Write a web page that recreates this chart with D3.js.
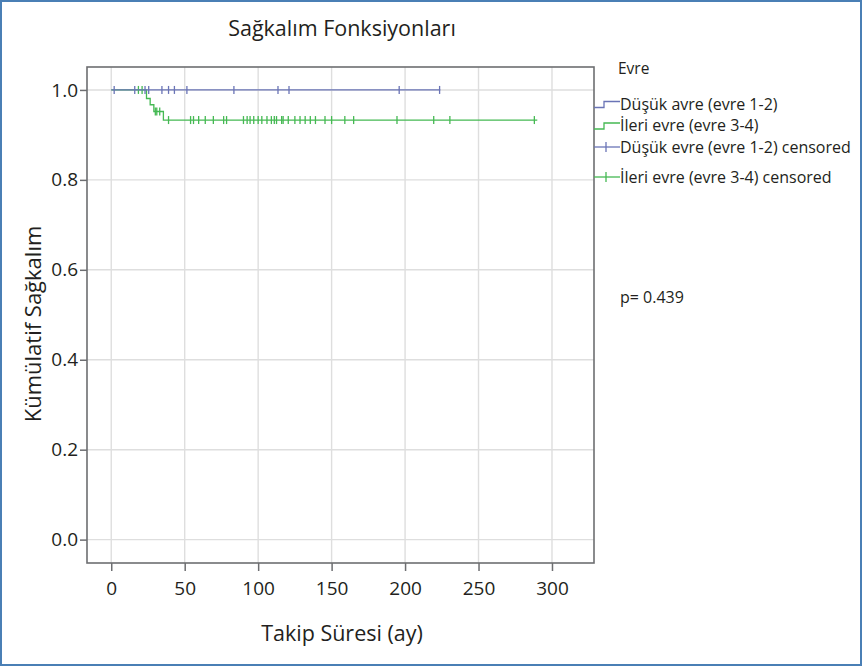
<!DOCTYPE html>
<html>
<head>
<meta charset="utf-8">
<script src="https://cdn.jsdelivr.net/npm/d3@7"></script>
<style>
  html, body { margin: 0; padding: 0; background: #fff; }
  svg { display: block; }
  text { font-family: "Open Sans", "Noto Sans", sans-serif; fill: #231f20; }
</style>
</head>
<body>
<svg id="chart" width="862" height="666"></svg>
<script>
// ---------- data ----------
const title = "Sağkalım Fonksiyonları";
const xLabel = "Takip Süresi (ay)";
const yLabel = "Kümülatif Sağkalım";
const xTicks = [0, 50, 100, 150, 200, 250, 300];
const yTicks = [0.0, 0.2, 0.4, 0.6, 0.8, 1.0];
const legendTitle = "Evre";
const legendLabels = ["Düşük avre (evre 1-2)", "İleri evre (evre 3-4)", "Düşük evre (evre 1-2) censored", "İleri evre (evre 3-4) censored"];
const pText = "p= 0.439";

// Düşük evre (evre 1-2): step function
const lowTimes = [0, 224];
const lowSurv = [1.0, 1.0];
const lowCensor = [2, 16, 23, 25.5, 34.5, 39, 43, 51.5, 83.5, 113.5, 121, 196, 223.5];

// İleri evre (evre 3-4): step function
const highTimes = [0, 24, 26.5, 29, 35.5, 290];
const highSurv = [1.0, 0.981, 0.967, 0.952, 0.933, 0.933];
const highCensor = [18.5, 21, 30, 31, 33, 39, 54, 56, 59.5, 64, 69.5, 76.5, 78.5, 90, 92.5, 94.5, 97, 100, 102.5, 106,
  109, 111, 112.5, 116, 117, 120.5, 125, 128.5, 132, 135.5, 139, 145.5, 150, 159, 165, 194.5, 219.5, 230.5, 288];

// ---------- layout ----------
const svg = d3.select("#chart");
const box = { left: 87, right: 594, top: 67, bottom: 563 };
const x = d3.scaleLinear().domain([-16.5, 328.6]).range([box.left, box.right]);
const y = d3.scaleLinear().domain([-0.052, 1.051]).range([box.bottom, box.top]);

const blue = "#6a74b6";
const green = "#45b953";
const axisColor = "#6d6e71";
const gridColor = "#dedede";

// outer frame
svg.append("rect").attr("x", 1).attr("y", 1).attr("width", 860).attr("height", 664)
  .attr("fill", "none").attr("stroke", "#4a7fb5").attr("stroke-width", 2);

// grid
svg.append("g").selectAll("line").data(xTicks).join("line")
  .attr("x1", d => x(d)).attr("x2", d => x(d)).attr("y1", box.top).attr("y2", box.bottom)
  .attr("stroke", gridColor).attr("stroke-width", 1.4);
svg.append("g").selectAll("line").data(yTicks).join("line")
  .attr("y1", d => y(d)).attr("y2", d => y(d)).attr("x1", box.left).attr("x2", box.right)
  .attr("stroke", gridColor).attr("stroke-width", 1.4);

// axes
const xAxis = svg.append("g").attr("transform", `translate(0,${box.bottom})`)
  .call(d3.axisBottom(x).tickValues(xTicks).tickFormat(d3.format("d")).tickSize(8).tickSizeOuter(0).tickPadding(11));
const yAxis = svg.append("g").attr("transform", `translate(${box.left},0)`)
  .call(d3.axisLeft(y).tickValues(yTicks).tickFormat(d3.format(".1f")).tickSize(7).tickSizeOuter(0).tickPadding(2));
[xAxis, yAxis].forEach(g => {
  g.select(".domain").remove();
  g.selectAll(".tick line").attr("stroke", axisColor).attr("stroke-width", 1.5);
  g.selectAll(".tick text").style("font-family", "'Open Sans', sans-serif").style("font-size", "19px").attr("fill", "#231f20");
});

// box
svg.append("rect").attr("x", box.left).attr("y", box.top)
  .attr("width", box.right - box.left).attr("height", box.bottom - box.top)
  .attr("fill", "none").attr("stroke", axisColor).attr("stroke-width", 1.6);

// curves
const line = d3.line().x(d => x(d[0])).y(d => y(d[1])).curve(d3.curveStepAfter);
function survAt(times, surv, t) {
  let s = surv[0];
  for (let i = 0; i < times.length; i++) if (times[i] <= t) s = surv[i];
  return s;
}
function drawGroup(times, surv, censor, color) {
  svg.append("path").datum(times.map((t, i) => [t, surv[i]]))
    .attr("d", line).attr("fill", "none").attr("stroke", color).attr("stroke-width", 1.3);
  svg.append("g").selectAll("line").data(censor).join("line")
    .attr("x1", d => x(d)).attr("x2", d => x(d))
    .attr("y1", d => y(survAt(times, surv, d)) - 4).attr("y2", d => y(survAt(times, surv, d)) + 4)
    .attr("stroke", color).attr("stroke-width", 1.3);
}
drawGroup(highTimes, highSurv, highCensor, green);
drawGroup(lowTimes, lowSurv, lowCensor, blue);

// titles
svg.append("text").attr("x", 342).attr("y", 36).attr("text-anchor", "middle")
  .style("font-size", "21.5px").text(title);
svg.append("text").attr("x", 342).attr("y", 641).attr("text-anchor", "middle")
  .style("font-size", "21.5px").text(xLabel);
svg.append("text").attr("transform", "translate(41,324) rotate(-90)").attr("text-anchor", "middle")
  .style("font-size", "22px").text(yLabel);

// legend
const lg = svg.append("g");
lg.append("text").attr("x", 618).attr("y", 74).style("font-size", "15.5px").text(legendTitle);
const legendColors = [blue, green, blue, green];
const legendY = [103.5, 125, 147, 177];
legendLabels.forEach((lab, i) => {
  const cy = legendY[i];
  if (i < 2) {
    lg.append("path").attr("d", `M594,${cy + 4} H604 V${cy - 2} H620`)
      .attr("fill", "none").attr("stroke", legendColors[i]).attr("stroke-width", 1.3);
  } else {
    lg.append("line").attr("x1", 594).attr("x2", 620).attr("y1", cy).attr("y2", cy)
      .attr("stroke", legendColors[i]).attr("stroke-width", 1.3);
    lg.append("line").attr("x1", 606).attr("x2", 606).attr("y1", cy - 5).attr("y2", cy + 5)
      .attr("stroke", legendColors[i]).attr("stroke-width", 1.3);
  }
  lg.append("text").attr("x", 620).attr("y", cy + 6).style("font-size", "16px").text(lab);
});
svg.append("text").attr("x", 620).attr("y", 303).style("font-size", "16px").text(pText);
</script>
</body>
</html>
